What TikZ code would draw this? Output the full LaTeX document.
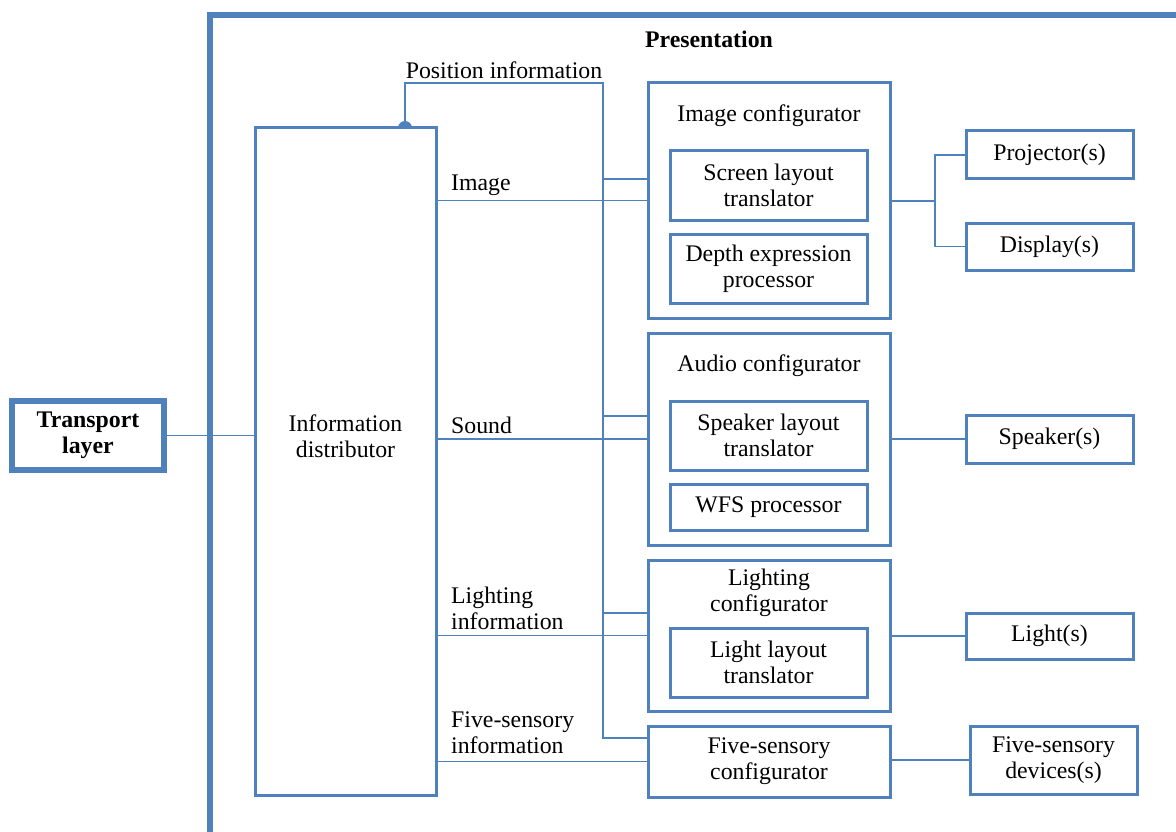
\documentclass[tikz,border=0pt]{standalone}
\usepackage{fontspec}
\setmainfont{Liberation Serif}
\definecolor{frame}{HTML}{4F81BD}
\begin{document}
\begin{tikzpicture}[x=1pt,y=-1pt,
  every node/.style={font=\fontsize{23.8}{26}\selectfont, align=center},
  box/.style={draw=frame, line width=3pt, fill=white, inner sep=0pt},
  heavy/.style={draw=frame, line width=5.5pt, fill=white, inner sep=0pt},
  conn/.style={draw=frame, line width=1.6pt},
  lbl/.style={inner sep=0pt, anchor=west, align=left}]
\useasboundingbox (0,0) rectangle (1176,832);

% outer presentation frame, running off the page at right and bottom
\begin{scope}
  \clip (0,0) rectangle (1176,832);
  \draw[draw=frame, line width=5.5pt] (210,15) rectangle (1200,860);
\end{scope}
\node[font=\fontsize{23.8}{26}\selectfont\bfseries] (pres) at (709,39) {Presentation};

% transport layer and information distributor
\node[heavy, minimum width=152, minimum height=69,
      font=\fontsize{23.8}{26}\selectfont\bfseries] (tl) at (88,435.5) {Transport\\layer};
\coordinate (tap) at (405,128);
\fill[frame] (tap) circle (7pt);
\node[box, minimum width=181, minimum height=667] (dist) at (345.5,461.5) {};
\node (distlbl) at (345.5,436) {Information\\distributor};
\draw[conn] (tl.east) -- (tl.east -| dist.west);

% configurators
\node[box, minimum width=242, minimum height=235] (imgcfg) at (769,200.5) {};
\node (imgt) at (769,116) {Image configurator};
\node[box, minimum width=197, minimum height=69] (screen) at (768.5,185.5) {Screen layout\\translator};
\node[box, minimum width=197, minimum height=69] (depth) at (768.5,268.5) {Depth expression\\processor};

\node[box, minimum width=242, minimum height=212] (audcfg) at (769,439) {};
\node (audt) at (769,366) {Audio configurator};
\node[box, minimum width=197, minimum height=69] (spklt) at (768.5,435.5) {Speaker layout\\translator};
\node[box, minimum width=197, minimum height=46] (wfs) at (768.5,507) {WFS processor};

\node[box, minimum width=242, minimum height=151] (litcfg) at (769,635.5) {};
\node (litt) at (769,593) {Lighting\\configurator};
\node[box, minimum width=197, minimum height=69] (litlt) at (768.5,662.5) {Light layout\\translator};

\node[box, minimum width=242, minimum height=71] (fivecfg) at (769,761.5) {Five-sensory\\configurator};

% output devices
\node[box, minimum width=167, minimum height=48] (proj) at (1049.5,155) {Projector(s)};
\node[box, minimum width=167, minimum height=47] (disp) at (1049.5,246.5) {Display(s)};
\node[box, minimum width=167, minimum height=48] (spk) at (1049.5,439) {Speaker(s)};
\node[box, minimum width=167, minimum height=46] (light) at (1049.5,636) {Light(s)};
\node[box, minimum width=167, minimum height=68] (fivedev) at (1053.5,760) {Five-sensory\\devices(s)};

% data paths from the distributor
\draw[conn] (dist.east |- imgcfg.west) -- (imgcfg.west);
\draw[conn] (dist.east |- audcfg.west) -- (audcfg.west);
\draw[conn] (dist.east |- litcfg.west) -- (litcfg.west);
\draw[conn] (dist.east |- fivecfg.west) -- (fivecfg.west);
\node[lbl] (limg) at (451,185) {Image};
\node[lbl] (lsnd) at (451,425) {Sound};
\node[lbl] (llit) at (451,608) {Lighting\\information};
\node[lbl] (lfive) at (451,733) {Five-sensory\\information};

% position information bus
\coordinate (pbtop) at (603,83);
\coordinate (pbbot) at (603,738);
\draw[conn] (tap) |- (pbtop) -- (pbbot) -- (pbbot -| fivecfg.west);
\draw[conn] (pbtop |- 0,179) -- (imgcfg.west |- 0,179);
\draw[conn] (pbtop |- 0,416) -- (audcfg.west |- 0,416);
\draw[conn] (pbtop |- 0,613) -- (litcfg.west |- 0,613);
\node[inner sep=0pt] (lpos) at (504,70) {Position information};

% configurator outputs
\coordinate (fork) at (935,201);
\draw[conn] (imgcfg.east |- fork) -- (fork);
\draw[conn] (proj.west) -| (fork) |- (disp.west);
\draw[conn] (audcfg.east |- spk.west) -- (spk.west);
\draw[conn] (litcfg.east |- light.west) -- (light.west);
\draw[conn] (fivecfg.east |- fivedev.west) -- (fivedev.west);
\end{tikzpicture}
\end{document}
